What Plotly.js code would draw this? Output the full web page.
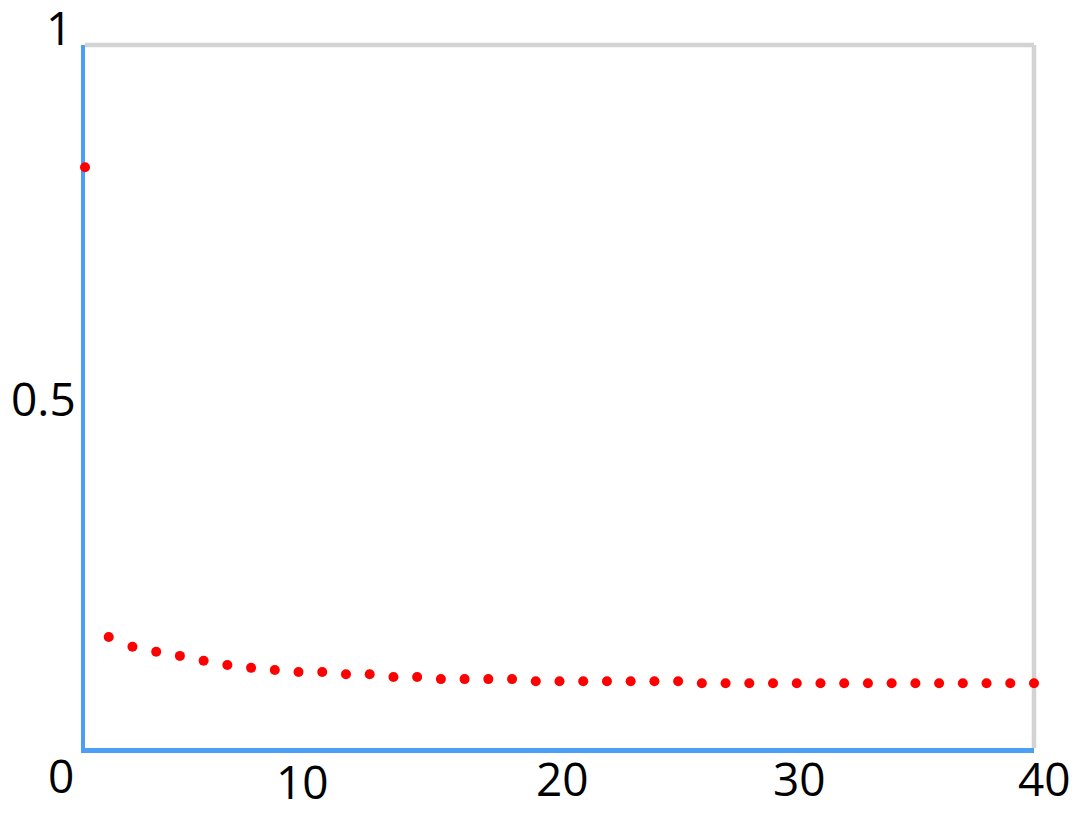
<!DOCTYPE html>
<html>
<head>
<meta charset="utf-8">
<script src="https://cdn.plot.ly/plotly-3.0.1.min.js"></script>
<style>
html,body{margin:0;padding:0;background:#fff;}
#chart{width:1082px;height:817px;}
</style>
</head>
<body>
<div id="chart"></div>
<script>
// ---- data ----
const lags = [0,1,2,3,4,5,6,7,8,9,10,11,12,13,14,15,16,17,18,19,20,21,22,23,24,25,26,27,28,29,30,31,32,33,34,35,36,37,38,39,40];
const values = [0.826,0.158,0.144,0.137,0.131,0.124,0.118,0.114,0.111,0.108,0.108,0.105,0.105,0.101,0.101,0.098,0.098,0.098,0.098,0.095,0.095,0.095,0.095,0.095,0.095,0.095,0.092,0.092,0.092,0.092,0.092,0.092,0.092,0.092,0.092,0.092,0.092,0.092,0.092,0.092,0.092];
const xTickVals = [10,20,30,40];
const xTickText = ['10','20','30','40'];
const yTickVals = [1,0.5,0];
const yTickText = ['1','0.5','0'];

// ---- label placement (pixel nudges, style only) ----
const xLabelShiftX = [-20,3,3,10];
const xLabelShiftY = [-33,-30,-30,-30];
const yLabelShiftX = [-11,-7,-9];
const yLabelShiftY = [18,-1,-27];

const labelFont = {family:'Open Sans, Noto Sans, sans-serif', size:46, color:'#000'};
const annotations = [];
xTickVals.forEach((v,i)=>annotations.push({
  x:v, xref:'x', y:0, yref:'y', text:xTickText[i], showarrow:false,
  xanchor:'center', yanchor:'middle', xshift:xLabelShiftX[i], yshift:xLabelShiftY[i], font:labelFont
}));
yTickVals.forEach((v,i)=>annotations.push({
  x:0, xref:'paper', y:v, yref:'y', text:yTickText[i], showarrow:false,
  xanchor:'right', yanchor:'middle', xshift:yLabelShiftX[i], yshift:yLabelShiftY[i], font:labelFont,
  height:44, valign:'middle'
}));

const trace = {
  x: lags, y: values, type:'scatter', mode:'markers',
  marker:{color:'#ff0000', size:10}, cliponaxis:false, hoverinfo:'x+y'
};

const layout = {
  width:1082, height:817,
  margin:{l:85, r:48, t:45, b:69, pad:0},
  paper_bgcolor:'#fff', plot_bgcolor:'#fff',
  showlegend:false,
  xaxis:{range:[0,40], showgrid:false, zeroline:false, showline:true, linecolor:'#4d9ff5', linewidth:4.5,
         showticklabels:false, ticks:'', fixedrange:true, layer:'below traces'},
  yaxis:{range:[0,1], showgrid:false, zeroline:false, showline:true, linecolor:'#4d9ff5', linewidth:4.5,
         showticklabels:false, ticks:'', fixedrange:true, layer:'below traces'},
  shapes:[
    {type:'line', xref:'paper', yref:'paper', x0:0, x1:1, y0:1, y1:1, line:{color:'#d3d3d3', width:4.5}, layer:'below'},
    {type:'line', xref:'paper', yref:'paper', x0:1, x1:1, y0:0, y1:1, line:{color:'#d3d3d3', width:4.5}, layer:'below'}
  ],
  annotations: annotations
};

Plotly.newPlot('chart',[trace],layout,{displayModeBar:false, staticPlot:true});
</script>
</body>
</html>
